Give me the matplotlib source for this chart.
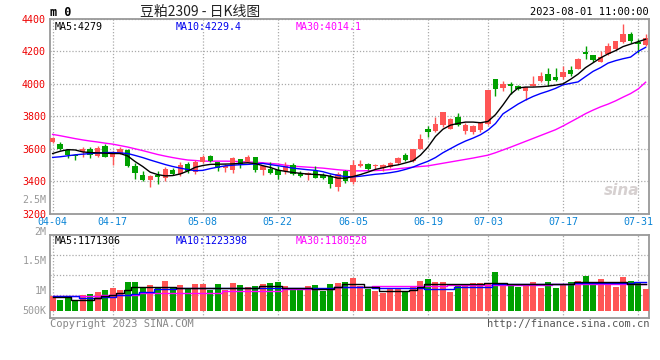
import matplotlib.pyplot as plt
import numpy as np

# ---- data ----
opens = [3640, 3626, 3590, 3564, 3580, 3596, 3556, 3614, 3550, 3570,
         3590, 3494, 3440, 3406, 3440, 3420, 3470, 3446, 3506, 3454,
         3516, 3554, 3520, 3480, 3466, 3536, 3520, 3548, 3470, 3476,
         3470, 3460, 3500, 3450, 3440, 3464, 3436, 3430, 3364, 3460,
         3395, 3492, 3504, 3490, 3483, 3487, 3512, 3559, 3524, 3600,
         3719, 3706, 3743, 3723, 3798, 3706, 3702, 3713, 3753, 4030,
         3974, 3996, 3986, 3954, 3986, 4016, 4060, 4040, 4044, 4084,
         4090, 4196, 4180, 4136, 4184, 4214, 4260, 4310, 4260, 4240]
highs = [3674, 3644, 3594, 3570, 3610, 3610, 3614, 3626, 3584, 3610,
         3600, 3510, 3464, 3440, 3460, 3484, 3480, 3516, 3520, 3530,
         3564, 3560, 3520, 3504, 3550, 3536, 3560, 3548, 3500, 3516,
         3496, 3516, 3510, 3464, 3454, 3494, 3450, 3444, 3454, 3470,
         3528, 3528, 3514, 3508, 3508, 3518, 3549, 3573, 3596, 3692,
         3739, 3794, 3825, 3788, 3819, 3757, 3743, 3764, 3964, 4030,
         4020, 4014, 3994, 3980, 4050, 4074, 4100, 4100, 4110, 4110,
         4160, 4236, 4180, 4200, 4254, 4266, 4370, 4320, 4274, 4310]
lows = [3634, 3590, 3540, 3530, 3550, 3540, 3550, 3546, 3500, 3566,
        3484, 3410, 3400, 3366, 3380, 3400, 3440, 3430, 3450, 3446,
        3510, 3520, 3464, 3456, 3450, 3480, 3520, 3456, 3436, 3444,
        3410, 3444, 3440, 3424, 3404, 3420, 3410, 3360, 3340, 3390,
        3379, 3488, 3467, 3467, 3463, 3483, 3508, 3524, 3518, 3600,
        3672, 3702, 3733, 3719, 3737, 3692, 3688, 3702, 3743, 3923,
        3954, 3936, 3960, 3900, 3986, 4010, 3984, 4020, 4030, 4050,
        4090, 4154, 4134, 4136, 4180, 4210, 4250, 4250, 4190, 4234]
closes = [3666, 3596, 3560, 3554, 3600, 3564, 3606, 3550, 3580, 3600,
          3490, 3450, 3406, 3434, 3426, 3476, 3446, 3500, 3464, 3520,
          3546, 3524, 3480, 3490, 3540, 3500, 3546, 3470, 3496, 3450,
          3440, 3496, 3446, 3434, 3450, 3420, 3420, 3380, 3446, 3400,
          3498, 3504, 3473, 3498, 3502, 3512, 3543, 3532, 3596, 3661,
          3702, 3754, 3825, 3784, 3747, 3747, 3737, 3757, 3964, 3968,
          4000, 3986, 3970, 3980, 3996, 4050, 4016, 4024, 4070, 4060,
          4154, 4184, 4150, 4164, 4234, 4266, 4310, 4266, 4246, 4284]

ma5 = [3570, 3584, 3594, 3592, 3580, 3576, 3574, 3572, 3570, 3570,
       3555, 3520, 3490, 3455, 3440, 3432, 3434, 3444, 3462, 3485,
       3496, 3503, 3504, 3505, 3506, 3510, 3513, 3508, 3495, 3484,
       3468, 3460, 3453, 3448, 3443, 3441, 3438, 3430, 3418, 3418,
       3428, 3440, 3455, 3472, 3482, 3493, 3500, 3512, 3525, 3560,
       3610, 3675, 3720, 3745, 3756, 3764, 3764, 3760, 3768, 3810,
       3870, 3935, 3974, 3980, 3980, 3982, 3986, 3992, 4000, 4028,
       4060, 4100, 4130, 4160, 4185, 4205, 4230, 4245, 4260, 4275]
ma10 = [3546, 3550, 3556, 3562, 3566, 3570, 3573, 3576, 3576, 3574,
        3570, 3558, 3545, 3530, 3516, 3502, 3490, 3480, 3471, 3464,
        3466, 3477, 3486, 3494, 3498, 3501, 3503, 3506, 3509, 3502,
        3495, 3488, 3480, 3475, 3470, 3466, 3458, 3445, 3435, 3428,
        3426, 3430, 3436, 3442, 3446, 3452, 3460, 3472, 3486, 3505,
        3522, 3545, 3575, 3600, 3625, 3647, 3665, 3686, 3715, 3755,
        3815, 3845, 3875, 3900, 3922, 3940, 3955, 3972, 3994, 4003,
        4012, 4045, 4077, 4100, 4128, 4143, 4155, 4165, 4200, 4225]
ma30 = [3688, 3680, 3671, 3662, 3654, 3647, 3641, 3634, 3628, 3619,
        3610, 3599, 3588, 3576, 3564, 3554, 3545, 3537, 3530, 3527,
        3523, 3523, 3523, 3523, 3522, 3520, 3518, 3516, 3513, 3509,
        3505, 3498, 3492, 3489, 3486, 3483, 3480, 3475, 3470, 3466,
        3463, 3463, 3464, 3465, 3467, 3471, 3476, 3481, 3486, 3490,
        3494, 3502, 3510, 3518, 3526, 3534, 3542, 3551, 3560, 3575,
        3592, 3609, 3627, 3645, 3663, 3681, 3699, 3717, 3740, 3765,
        3790, 3816, 3838, 3858, 3875, 3895, 3918, 3940, 3968, 4010]

volumes = [875, 775, 858, 750, 900, 925, 983, 1025, 1083, 1025,
           1233, 1233, 1108, 1150, 1108, 1250, 1108, 1150, 1067, 1192,
           1192, 1025, 1183, 1025, 1217, 1150, 1108, 1125, 1192, 1217,
           1233, 1125, 1025, 1067, 1125, 1150, 1008, 1175, 1208, 1233,
           1333, 1133, 1050, 1000, 958, 1050, 1050, 1000, 1133, 1250,
           1300, 1225, 1225, 983, 1175, 1150, 1208, 1208, 1175, 1483,
           1208, 1192, 1108, 1192, 1225, 1083, 1225, 1083, 1167, 1225,
           1250, 1375, 1225, 1300, 1225, 1108, 1350, 1250, 1225, 1050]
vol_ma5 = [850, 850, 850, 790, 790, 790, 830, 870, 900, 960,
           1040, 1100, 1110, 1110, 1110, 1110, 1110, 1090, 1090, 1090,
           1090, 1090, 1090, 1090, 1090, 1090, 1090, 1090, 1130, 1130,
           1130, 1070, 1070, 1070, 1070, 1050, 1050, 1050, 1110, 1190,
           1190, 1190, 1110, 1110, 1000, 1000, 1000, 1000, 1040, 1100,
           1190, 1190, 1190, 1190, 1170, 1170, 1170, 1170, 1210, 1210,
           1210, 1190, 1190, 1190, 1190, 1170, 1170, 1190, 1190, 1190,
           1220, 1220, 1220, 1220, 1220, 1220, 1220, 1190, 1190, 1171]
vol_ma10 = [875, 875, 875, 875, 840, 840, 840, 860, 860, 900,
            900, 930, 980, 980, 1050, 1050, 1050, 1083, 1083, 1083,
            1083, 1083, 1083, 1083, 1083, 1083, 1083, 1083, 1083, 1083,
            1083, 1083, 1083, 1083, 1083, 1083, 1083, 1083, 1110, 1110,
            1110, 1110, 1110, 1070, 1070, 1070, 1070, 1070, 1070, 1070,
            1060, 1060, 1060, 1060, 1110, 1110, 1110, 1110, 1110, 1170,
            1170, 1170, 1170, 1170, 1170, 1170, 1170, 1170, 1170, 1170,
            1210, 1210, 1210, 1210, 1210, 1210, 1210, 1210, 1220, 1223]
vol_ma30 = [875, 875, 875, 875, 875, 875, 875, 900, 900, 900,
            900, 900, 960, 960, 960, 960, 960, 960, 960, 960,
            960, 960, 960, 1008, 1008, 1008, 1008, 1008, 1008, 1008,
            1008, 1067, 1067, 1067, 1067, 1067, 1067, 1067, 1110, 1110,
            1112, 1115, 1118, 1120, 1122, 1125, 1127, 1130, 1132, 1135,
            1137, 1140, 1142, 1145, 1147, 1150, 1152, 1155, 1157, 1160,
            1162, 1163, 1165, 1166, 1167, 1168, 1169, 1170, 1171, 1172,
            1173, 1174, 1175, 1176, 1177, 1178, 1179, 1180, 1180, 1181]

date_ticks = [0, 8, 20, 30, 40, 50, 58, 68, 78]
date_labels = ['04-04', '04-17', '05-08', '05-22', '06-05', '06-19', '07-03', '07-17', '07-31']
price_ticks = [3200, 3400, 3600, 3800, 4000, 4200, 4400]
vol_labels = ['2.5M', '2M', '1.5M', '1M', '500K']
vol_label_pos = [3275, 2480, 1750, 1000, 500]   # where the labels sit (thousands)

RED = '#ff5555'
GREEN = '#00a000'
GRID = '#aaaaaa'
FRAME = '#999999'
MONO = 'DejaVu Sans Mono'
CJK = ['Noto Sans CJK SC', 'DejaVu Sans']
FS = 7.2

x = np.arange(len(closes))
o = np.array(opens); c = np.array(closes)
up = c >= o
cols = [RED if u else GREEN for u in up]

fig = plt.figure(figsize=(6.6, 3.6), dpi=100)
ax = fig.add_axes([50/660, 1 - 213.5/360, 599/660, 194.5/360])
axv = fig.add_axes([50/660, 1 - 318/360, 599/660, 83/360])

# ---- candles ----
ax.vlines(x, lows, highs, colors=cols, linewidth=1, zorder=3)
body_bot = np.minimum(o, c)
body_h = np.maximum(np.abs(c - o), 3)
ax.bar(x, body_h, bottom=body_bot, width=0.72, color=cols, linewidth=0, zorder=4)

ax.plot(x, ma30, color='#ff00ff', lw=1, zorder=2)
ax.plot(x, ma10, color='#0000ff', lw=1, zorder=5)
ax.plot(x, ma5, color='black', lw=1, zorder=6)

ax.set_xlim(-0.35, 79.45)
ax.set_ylim(3200, 4392)
ax.set_xticks(date_ticks)
ax.set_xticklabels(date_labels, fontfamily=MONO, fontsize=FS, color='#0a84d6')
ax.set_yticks(price_ticks)
ax.set_yticklabels([str(p) for p in price_ticks], fontfamily=MONO, fontsize=FS, color='#ee0000')
ax.tick_params(axis='y', length=0, pad=3)
ax.tick_params(axis='x', length=0, pad=2.8)
ax.grid(color=GRID, linestyle=(0, (1, 1.5)), linewidth=0.9)
for s in ax.spines.values():
    s.set_color(FRAME)
    s.set_linewidth(1.3)

ax.text(0.008, 0.985, 'MA5:4279', transform=ax.transAxes, va='top', ha='left',
        fontfamily=MONO, fontsize=FS, color='black')
ax.text(0.21, 0.985, 'MA10:4229.4', transform=ax.transAxes, va='top', ha='left',
        fontfamily=MONO, fontsize=FS, color='#0000ee')
ax.text(0.41, 0.985, 'MA30:4014.1', transform=ax.transAxes, va='top', ha='left',
        fontfamily=MONO, fontsize=FS, color='#ff00ff')
ax.text(0.955, 0.12, 'sina', transform=ax.transAxes, ha='center', va='center',
        fontsize=11, fontweight='bold', style='italic', color='#d6d0d0', zorder=1)

# ---- volume ----
axv.bar(x, np.array(volumes) - 500, bottom=500, width=0.8, color=cols, linewidth=0, zorder=3)
axv.plot(x, vol_ma30, color='#ff00ff', lw=1, drawstyle='steps-mid', zorder=4)
axv.plot(x, vol_ma10, color='#0000ff', lw=1, drawstyle='steps-mid', zorder=5)
axv.plot(x, vol_ma5, color='black', lw=1, drawstyle='steps-mid', zorder=6)
axv.set_xlim(-0.35, 79.45)
axv.set_ylim(332, 2408)
axv.set_xticks(date_ticks)
axv.set_xticklabels([])
axv.set_yticks([900, 1400, 1900])
axv.set_yticklabels([])
axv.tick_params(length=0)
axv.grid(color=GRID, linestyle=(0, (1, 1.5)), linewidth=0.9)
for s in axv.spines.values():
    s.set_color(FRAME)
    s.set_linewidth(1.3)
for lab, v in zip(vol_labels, vol_label_pos):
    axv.text(-0.006, v, lab, transform=axv.get_yaxis_transform(), ha='right', va='center',
             fontfamily=MONO, fontsize=FS, color='#999999', clip_on=False)

axv.text(0.008, 0.985, 'MA5:1171306', transform=axv.transAxes, va='top', ha='left',
         fontfamily=MONO, fontsize=FS, color='black')
axv.text(0.21, 0.985, 'MA10:1223398', transform=axv.transAxes, va='top', ha='left',
         fontfamily=MONO, fontsize=FS, color='#0000ee')
axv.text(0.41, 0.985, 'MA30:1180528', transform=axv.transAxes, va='top', ha='left',
         fontfamily=MONO, fontsize=FS, color='#ff00ff')

# ---- header / footer ----
fig.text(50/660, 1 - 12/360, 'm 0', ha='left', va='center', fontfamily=MONO,
         fontsize=8.5, fontweight='bold', color='black')
fig.text(200/660, 1 - 12/360, '豆粕2309 - 日K线图', ha='center', va='center',
         family=CJK, fontsize=10, color='#222222')
fig.text(649/660, 1 - 12/360, '2023-08-01 11:00:00', ha='right', va='center',
         fontfamily=MONO, fontsize=7.5, color='black')
fig.text(50/660, 1 - 324/360, 'Copyright 2023 SINA.COM', ha='left', va='center',
         fontfamily=MONO, fontsize=7.5, color='#888888')
fig.text(649/660, 1 - 324/360, 'http://finance.sina.com.cn', ha='right', va='center',
         fontfamily=MONO, fontsize=7.5, color='#555555')

plt.savefig('out.png', dpi=100)
